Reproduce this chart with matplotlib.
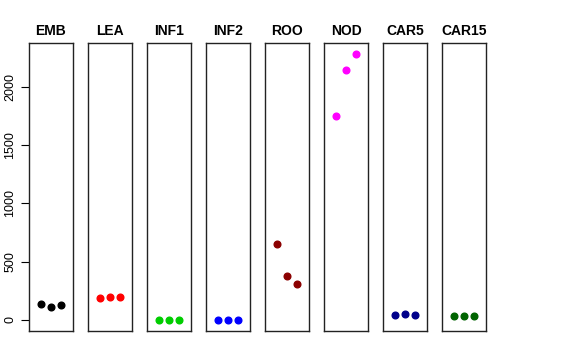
import matplotlib
matplotlib.use("Agg")
import matplotlib.pyplot as plt

plt.rcParams['font.family'] = ['Liberation Sans', 'DejaVu Sans']

tissues = ["EMB", "LEA", "INF1", "INF2", "ROO", "NOD", "CAR5", "CAR15"]
colors = ["black", "red", "#00CD00", "blue", "#8B0000", "magenta", "#00008B", "#006400"]
reps = [1, 2, 3]
emb = [137, 114, 126]
lea = [191, 194, 200]
inf1 = [3, 3, 3]
inf2 = [3, 3, 3]
roo = [649, 380, 306]
nod = [1749, 2143, 2283]
car5 = [40, 49, 46]
car15 = [31, 31, 31]
values = [emb, lea, inf1, inf2, roo, nod, car5, car15]
yticks = [0, 500, 1000, 1500, 2000]

fig = plt.figure(figsize=(5.76, 3.6), dpi=100)
left_px = 29
width_px = 44
step_px = 59
top = 1 - 43.3 / 360
bottom = 1 - 330.7 / 360
for i, (name, col, vals) in enumerate(zip(tissues, colors, values)):
    ax = fig.add_axes([(left_px + i * step_px) / 576, bottom, width_px / 576, top - bottom])
    ax.plot(reps, vals, 'o', color=col, ms=4.8, mec=col)
    ax.set_xlim(-0.16, 4.16)
    ax.set_ylim(-91.7, 2371)
    ax.set_xticks([])
    ax.set_title(name, fontweight='bold', fontsize=10, pad=6)
    for s in ax.spines.values():
        s.set_linewidth(1.0)
        s.set_color('#222222')
    if i == 0:
        ax.set_yticks(yticks)
        ax.set_yticklabels([str(t) for t in yticks], rotation=90, va='center', fontsize=9)
        ax.tick_params(axis='y', length=6, width=0.8, pad=3)
    else:
        ax.set_yticks([])

fig.savefig("out.png", dpi=100)
